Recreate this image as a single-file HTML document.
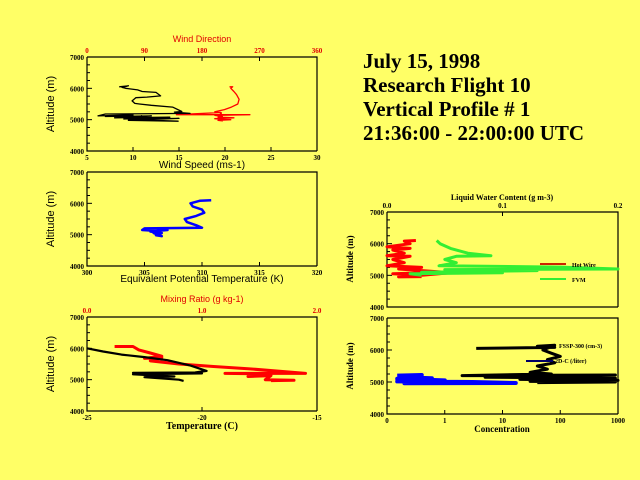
<!DOCTYPE html>
<html><head><meta charset="utf-8"><style>
body{margin:0;background:#ffff66;}
svg{display:block;font-family:"Liberation Sans",sans-serif;}
.tk{font-size:7px;font-weight:bold;font-family:"Liberation Serif",serif;}
.ttl{font-family:"Liberation Serif",serif;font-weight:bold;font-size:21px;}
</style></head><body>
<svg id="c" width="640" height="480" viewBox="0 0 640 480">
<rect width="640" height="480" fill="#ffff66"/>
<g>
<text class="ttl" x="363" y="68">July 15, 1998</text>
<text class="ttl" x="363" y="92">Research Flight 10</text>
<text class="ttl" x="363" y="116">Vertical Profile # 1</text>
<text class="ttl" x="363" y="140">21:36:00 - 22:00:00 UTC</text>
</g>
</svg>
<script>
// ---- data (value, altitude m) ----
const windSpeed=[[8.5,6050],[9.5,6080],[8.8,6030],[9.2,6000],[10.5,5950],[11,5900],[12.5,5870],[13,5760],[11.5,5720],[10.3,5700],[9.9,5600],[10.2,5520],[10.7,5500],[12,5460],[14.3,5400],[15.3,5260],[14.5,5240],[16.2,5200],[7,5180],[6.2,5120],[10,5150],[7,5100],[12,5120],[8,5060],[14,5080],[9,5020],[15,5040],[9.5,4980],[14.9,4950],[10,5000],[11,5130]];
const windDir=[[223,6050],[228,6050],[225,6000],[230,5900],[234,5800],[238,5650],[236,5500],[226,5400],[215,5320],[200,5250],[210,5230],[140,5160],[255,5160],[200,5140],[212,5100],[205,5080],[230,5060],[200,5030],[225,5000],[205,4980],[212,4960],[210,5200],[205,5120]];
const theta=[[310.8,6100],[309.8,6080],[309,6000],[309.2,5900],[310,5800],[310.2,5700],[309.5,5600],[308.5,5500],[308.7,5400],[309.5,5300],[310,5220],[305,5200],[304.8,5150],[306,5120],[307,5150],[305.5,5100],[306.5,5050],[306,4980],[306.5,4950],[305.8,5050],[307,5200]];
const temperature=[[-25,6000],[-24.3,5900],[-23.5,5800],[-22.5,5720],[-21.5,5620],[-20.5,5450],[-19.8,5280],[-20.3,5230],[-23,5220],[-20,5200],[-23,5170],[-21.2,5100],[-22.5,5080],[-21,5000],[-20.8,4960]];
const mixing=[[0.24,6060],[0.4,6060],[0.45,5950],[0.55,5850],[0.65,5750],[0.5,5680],[0.65,5700],[0.55,5600],[0.8,5500],[1.1,5420],[1.4,5350],[1.9,5200],[1.2,5200],[1.6,5180],[1.4,5100],[1.6,5130],[1.55,5000],[1.8,4980],[1.6,4970]];
const hotWire=[[0.025,6100],[0.015,6080],[0.02,6000],[0.0,5900],[0.02,5850],[0.005,5800],[0.015,5700],[0.0,5620],[0.02,5600],[0.005,5500],[0.015,5400],[0.0,5300],[0.03,5250],[0.01,5200],[0.05,5100],[0.005,5050],[0.03,5000],[0.055,5080],[0.01,4950],[0.03,4960]];
const fssp=[[0.043,6100],[0.046,6000],[0.055,5850],[0.07,5700],[0.09,5620],[0.06,5600],[0.05,5500],[0.06,5400],[0.045,5300],[0.15,5260],[0.2,5200],[0.05,5180],[0.13,5150],[0.03,5100],[0.1,5080],[0.02,5050],[0.03,5000]];
const fsspConc=[[3.5,6050],[80,6080],[40,6120],[80,6150],[50,6000],[70,5900],[100,5800],[60,5700],[80,5600],[40,5500],[60,5400],[30,5300],[70,5250],[2,5200],[900,5220],[5,5150],[900,5120],[20,5080],[1000,5050],[30,5020],[900,5000],[40,4980]];
const twodc=[[0.15,5200],[0.4,5220],[0.2,5150],[0.6,5120],[0.15,5100],[1,5050],[0.15,5020],[3,5000],[17,4970],[0.2,4960],[0.4,5000]];
const NS='http://www.w3.org/2000/svg';
const svg=document.getElementById('c');
function el(t,a,p){const e=document.createElementNS(NS,t);for(const k in a)e.setAttribute(k,a[k]);(p||svg).appendChild(e);return e;}
function txt(p,x,y,s,o){const e=el('text',Object.assign({x:x,y:y},o||{}),p);e.textContent=s;return e;}
function panel(name,x0,x1,y0,y1,ticksY){
 const g=el('g',{});
 
 
 const ax=el('path',{d:`M${x0},${y0}V${y1}H${x1}M${x0},${y0}H${x1}V${y1}`,stroke:'#000',fill:'none','stroke-width':1.2},g);
 
 
 const yf=v=>y1-(v-4000)/3000*(y1-y0);
 for(let v=4000;v<=7000;v+=250){const y=yf(v);el('line',{x1:x0,x2:x0+(v%1000?3:5),y1:y,y2:y,stroke:'#000'},g);}
 ticksY.forEach(v=>{const t=txt(g,x0-3,yf(v)+3,String(v),{class:'tk','text-anchor':'end'});});
 return {g,yf};
}
function xticks(g,vals,labs,xf,y,color,up){vals.forEach((v,i)=>{const x=xf(v);el('line',{x1:x,x2:x,y1:y,y2:up?y+4:y-4,stroke:'#000'},g);const t=txt(g,x,up?y-4:y+9,labs[i],{class:'tk','text-anchor':'middle',fill:color||'#000'});});}
function line(g,data,xf,yf,color,w,name){const l=el('polyline',{points:data.map(d=>xf(d[0]).toFixed(1)+','+yf(d[1]).toFixed(1)).join(' '),fill:'none',stroke:color,'stroke-width':w,'stroke-linejoin':'round'},g);return l;}
function ylab(g,x,y,s,serif){const t=txt(g,0,0,s,{transform:`translate(${x},${y}) rotate(-90)`,'text-anchor':'middle','font-size':serif?9:11,'font-weight':serif?'bold':'normal','font-family':serif?'"Liberation Serif",serif':'"Liberation Sans",sans-serif'});}
const yt=[4000,5000,6000,7000];
{const P=panel('wind-panel',87,317,57,151,yt);const xs=v=>87+(v-5)/25*230, xd=v=>87+v/360*230;
xticks(P.g,[5,10,15,20,25,30],['5','10','15','20','25','30'],xs,151,'#000',false);
xticks(P.g,[0,90,180,270,360],['0','90','180','270','360'],xd,57,'#e00000',true);
txt(P.g,202,42,'Wind Direction',{'text-anchor':'middle','font-size':9,fill:'#e00000'});
txt(P.g,202,168,'Wind Speed (ms-1)',{'text-anchor':'middle','font-size':10});
ylab(P.g,54,104,'Altitude (m)');
line(P.g,windDir,xd,P.yf,'#ff0000',1.3,'wind-direction-series');
line(P.g,windSpeed,xs,P.yf,'#000',1.3,'wind-speed-series');}
{const P=panel('theta-panel',87,317,172,266,yt);const xf=v=>87+(v-300)/20*230;
xticks(P.g,[300,305,310,315,320],['300','305','310','315','320'],xf,266,'#000',false);
txt(P.g,202,282,'Equivalent Potential Temperature (K)',{'text-anchor':'middle','font-size':10});
ylab(P.g,54,219,'Altitude (m)');
line(P.g,theta,xf,P.yf,'#0000ff',2.5,'theta-e-series');}
{const P=panel('temperature-panel',87,317,317,411,yt);const xt=v=>87+(v+25)/10*230, xm=v=>87+v/2*230;
xticks(P.g,[-25,-20,-15],['-25','-20','-15'],xt,411,'#000',false);
xticks(P.g,[0,1,2],['0.0','1.0','2.0'],xm,317,'#e00000',true);
txt(P.g,202,302,'Mixing Ratio (g kg-1)',{'text-anchor':'middle','font-size':9,fill:'#e00000'});
txt(P.g,202,429,'Temperature (C)',{'text-anchor':'middle','font-size':10,'font-weight':'bold','font-family':'"Liberation Serif",serif'});
ylab(P.g,54,364,'Altitude (m)');
line(P.g,mixing,xm,P.yf,'#ff0000',3,'mixing-ratio-series');
line(P.g,temperature,xt,P.yf,'#000',2.2,'temperature-series');}
{const P=panel('lwc-panel',387,618,212,307,yt);const xf=v=>387+v/0.2*231;
xticks(P.g,[0,0.1,0.2],['0.0','0.1','0.2'],xf,212,'#000',true);
txt(P.g,502,200,'Liquid Water Content (g m-3)',{'text-anchor':'middle','font-size':8,'font-weight':'bold','font-family':'"Liberation Serif",serif'});
ylab(P.g,353,259,'Altitude (m)',true);
line(P.g,hotWire,xf,P.yf,'#ff0000',3,'hot-wire-series');
line(P.g,fssp,xf,P.yf,'#33ee33',3,'fssp-lwc-series');
const l1=el('line',{x1:540,x2:566,y1:264,y2:264,stroke:'#cc2200','stroke-width':2},P.g);
txt(P.g,572,267,'Hot Wire',{'font-size':6,'font-weight':'bold','font-family':'"Liberation Serif",serif'});
const l2=el('line',{x1:540,x2:566,y1:279,y2:279,stroke:'#33ee33','stroke-width':2},P.g);
txt(P.g,572,282,'FVM',{'font-size':6,'font-weight':'bold','font-family':'"Liberation Serif",serif'});}
{const P=panel('concentration-panel',387,618,318,414,yt);const xf=v=>387+(Math.log10(v)+1)/4*231;
xticks(P.g,[0.1,1,10,100,1000],['0','1','10','100','1000'],xf,414,'#000',false);
txt(P.g,502,432,'Concentration',{'text-anchor':'middle','font-size':9,'font-weight':'bold','font-family':'"Liberation Serif",serif'});
ylab(P.g,353,366,'Altitude (m)',true);
line(P.g,fsspConc,xf,P.yf,'#000',3,'fssp-300-series');
line(P.g,twodc,xf,P.yf,'#0000ff',4,'2dc-series');
txt(P.g,559,348,'FSSP-300 (cm-3)',{'font-size':6,'font-weight':'bold','font-family':'"Liberation Serif",serif'});
const l3=el('line',{x1:526,x2:553,y1:361,y2:361,stroke:'#000066','stroke-width':2},P.g);
txt(P.g,555,363,'2D-C (/liter)',{'font-size':6,'font-weight':'bold','font-family':'"Liberation Serif",serif'});}
</script>
</body></html>
